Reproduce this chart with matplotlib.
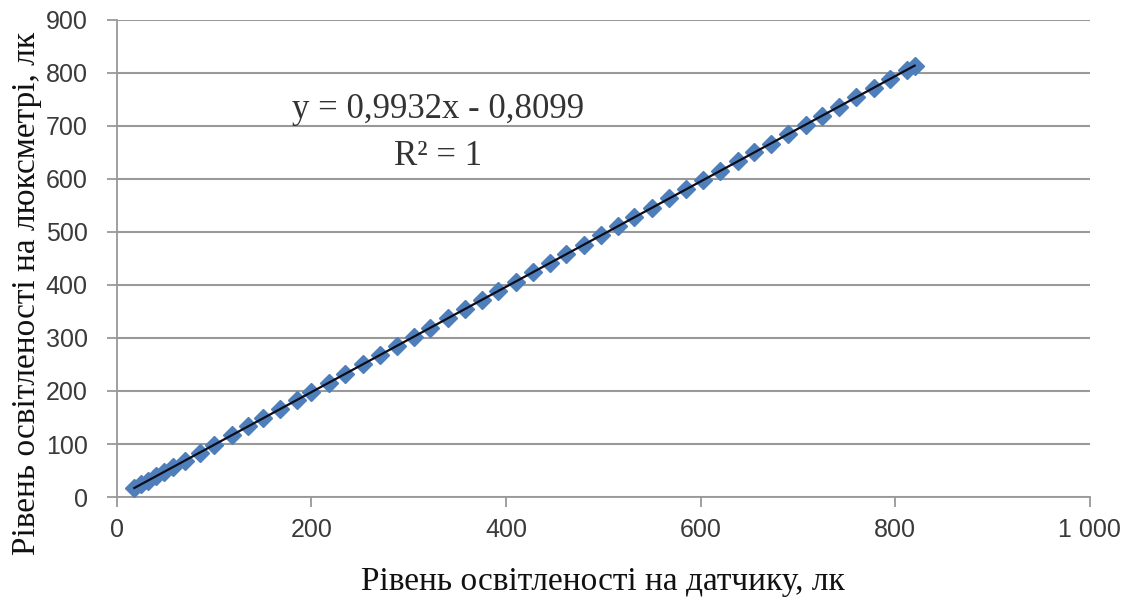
import numpy as np
import matplotlib.pyplot as plt

# Readings: sensor (x) vs luxmeter (y), lux
sensor = [18, 25, 32, 40, 48, 58, 70, 85, 100, 118, 135, 150, 168, 185,
          200, 218, 235, 253, 270, 288, 305, 322, 340, 358, 375, 392, 410,
          428, 445, 462, 480, 498, 515, 532, 550, 568, 585, 602, 620, 638,
          655, 672, 690, 708, 725, 742, 760, 778, 795, 812, 820]
luxmeter = [17.1, 24.0, 31.0, 38.9, 46.9, 56.8, 68.7, 83.6, 98.5, 116.4,
            133.3, 148.2, 166.0, 182.9, 197.8, 215.7, 232.6, 250.5, 267.4,
            285.2, 302.1, 319.0, 336.9, 354.8, 371.6, 388.5, 406.4, 424.3,
            441.2, 458.1, 475.9, 493.8, 510.7, 527.6, 545.5, 563.3, 580.2,
            597.1, 615.0, 632.9, 649.8, 666.6, 684.5, 702.4, 719.3, 736.2,
            754.0, 771.9, 788.8, 805.7, 813.6]

x_ticks = [0, 200, 400, 600, 800, 1000]
x_tick_labels = ["0", "200", "400", "600", "800", "1 000"]
y_ticks = [0, 100, 200, 300, 400, 500, 600, 700, 800, 900]

fig = plt.figure(figsize=(11.34, 6.01), dpi=100)
ax = fig.add_axes([0.103, 0.173, 0.858, 0.794])

ax.plot(sensor, luxmeter, linestyle="none", marker="D", markersize=9.5,
        color="#4F7FBA", markeredgecolor="#4F7FBA", zorder=3)

# linear trendline
k, b = np.polyfit(sensor, luxmeter, 1)
xs = np.array([min(sensor), max(sensor)])
ax.plot(xs, k * xs + b, color="#0d0d1a", linewidth=1.6, zorder=4)

ax.text(330, 730, "y = 0,9932x - 0,8099", ha="center", va="center",
        fontsize=25, family="Liberation Serif", color="#333333")
ax.text(330, 643, "R² = 1", ha="center", va="center",
        fontsize=25, family="Liberation Serif", color="#333333")

ax.set_xlim(0, 1000)
ax.set_ylim(0, 900)
ax.set_xticks(x_ticks)
ax.set_xticklabels(x_tick_labels)
ax.set_yticks(y_ticks)

ax.yaxis.grid(True, color="#999999", linewidth=1.5)
ax.set_axisbelow(True)
for side in ("top", "right"):
    ax.spines[side].set_visible(False)
for side in ("left", "bottom"):
    ax.spines[side].set_color("#999999")
    ax.spines[side].set_linewidth(1.3)
ax.tick_params(axis="both", colors="#999999", length=7, width=1.3,
               labelsize=18, labelcolor="#3a3a3a")
ax.tick_params(axis="y", pad=14)
ax.tick_params(axis="x", pad=8)
for lab in ax.get_xticklabels() + ax.get_yticklabels():
    lab.set_family("Liberation Sans")

ax.set_xlabel("Рівень освітленості на датчику, лк", fontsize=24,
              family="Liberation Serif", color="#111111")
ax.set_ylabel("Рівень освітленості на люксметрі, лк", fontsize=24,
              family="Liberation Serif", color="#111111")
ax.xaxis.set_label_coords(0.5, -0.145)
ax.yaxis.set_label_coords(-0.077, 0.4256)

fig.savefig("out.png", dpi=100)
